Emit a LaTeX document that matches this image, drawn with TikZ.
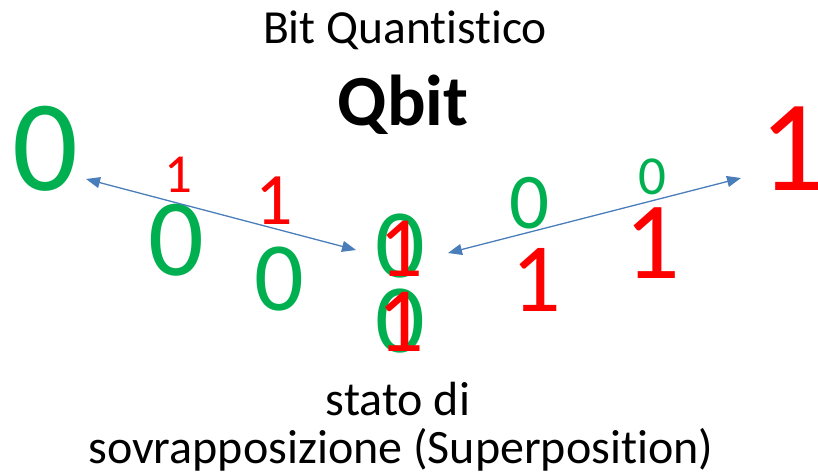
\documentclass[tikz,border=0pt]{standalone}
\usepackage{fontspec}
\setmainfont{Carlito}[Ligatures={NoCommon}]
\usetikzlibrary{arrows.meta}
\definecolor{qgreen}{HTML}{00B050}
\definecolor{qred}{HTML}{FF0000}
\definecolor{qblue}{HTML}{4A7EBB}
\newcommand{\fsz}[1]{\fontsize{#1}{#1}\selectfont}
\tikzset{
  dig/.style={inner sep=0pt, anchor=center},
  gd/.style={dig, text=qgreen},
  rd/.style={dig, text=qred},
  title/.style={inner sep=0pt, anchor=base, text=black},
  link/.style={qblue, line width=1.3pt, {Triangle[length=14pt,width=11pt]}-{Triangle[length=14pt,width=11pt]}}
}
\begin{document}
\begin{tikzpicture}[x=1pt,y=-1pt]
\useasboundingbox (0,0) rectangle (818,475);
\node[title] (t1) at (405,43) {\fsz{47.5}Bit Quantistico};
\node[title] (t2) at (403,125) {\fsz{72}\bfseries Qbit};
\node[title] (t3) at (398,415) {\fsz{48}stato di};
\node[title] (t4) at (401,463) {\fsz{48}sovrapposizione (Superposition)};
% big ends
\node[gd] (z0) at (45,149) {\fsz{130}0};
\node[rd] (o1) at (792,149) {\fsz{130}1};
% left side digits
\node[rd] (l1) at (178,175) {\fsz{55}1};
\node[rd] (l2) at (274,201) {\fsz{74}1};
\node[gd] (l3) at (176,240) {\fsz{110}0};
\node[gd] (l4) at (279,279) {\fsz{98}0};
% centre superposition
\node[gd] (c1) at (400,246) {\fsz{98}0};
\node[rd] (c2) at (401,249) {\fsz{86}1};
\node[gd] (c3) at (400,321) {\fsz{98}0};
\node[rd] (c4) at (401,322) {\fsz{92}1};
% right side digits
\node[gd] (r1) at (530,203) {\fsz{79}0};
\node[gd] (r2) at (652,177) {\fsz{55}0};
\node[rd] (r3) at (652,243) {\fsz{110}1};
\node[rd] (r4) at (536,280) {\fsz{98}1};
% arrows
\coordinate (la) at (86,179);
\coordinate (lb) at (356,250);
\coordinate (ra) at (448,253);
\coordinate (rb) at (741,178);
\draw[link] (la) -- (lb);
\draw[link] (ra) -- (rb);
\end{tikzpicture}
\end{document}
